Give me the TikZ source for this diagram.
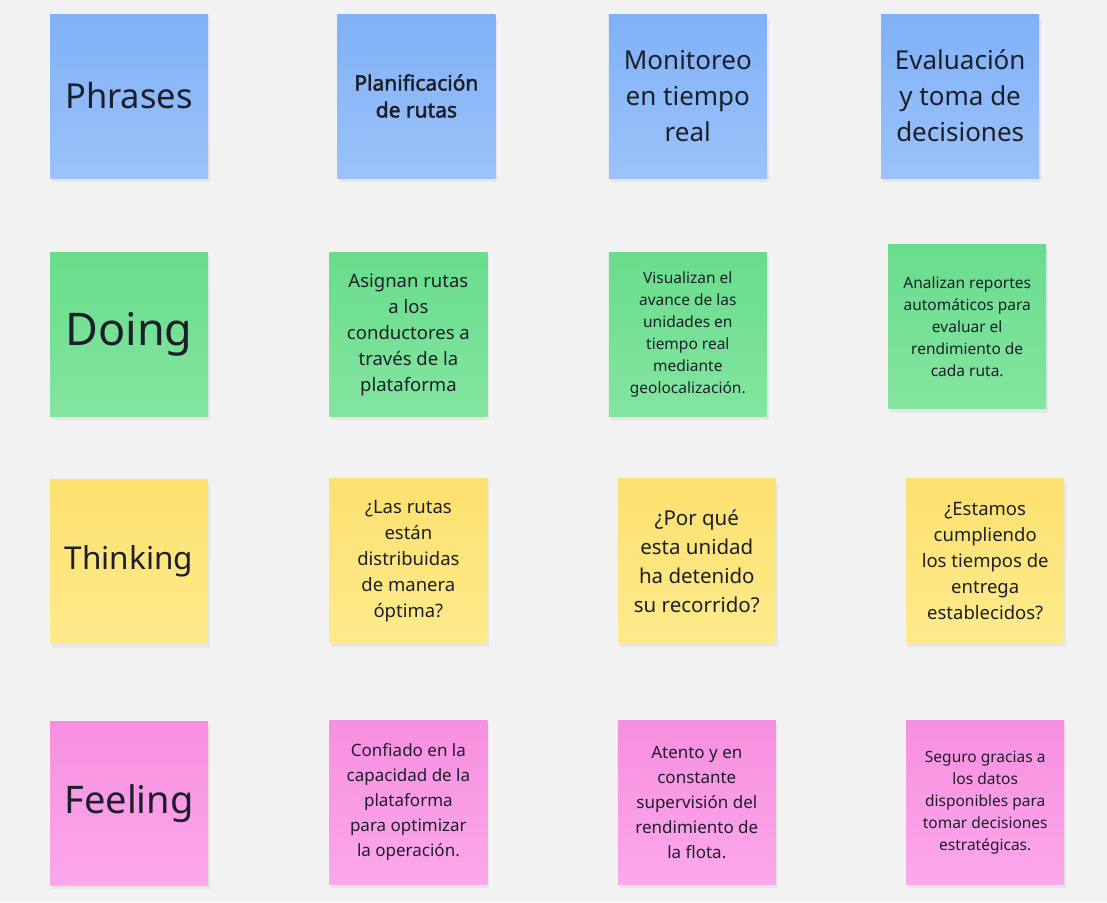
\documentclass[tikz,border=0pt]{standalone}
\usepackage{fontspec}
\setmainfont{Noto Sans}
\newfontfamily\notobold{Noto Sans}[FakeBold=2.2]
\usepackage{xcolor}
\usetikzlibrary{positioning, shadows}

\definecolor{canvas}{HTML}{F2F2F2}
\definecolor{ink}{HTML}{1C1F2A}
\definecolor{blueTop}{HTML}{7FB1F7}
\definecolor{blueBot}{HTML}{9CC2FA}
\definecolor{greenTop}{HTML}{69DD8C}
\definecolor{greenBot}{HTML}{84E5A0}
\definecolor{yellowTop}{HTML}{FDE16F}
\definecolor{yellowBot}{HTML}{FEEA8C}
\definecolor{pinkTop}{HTML}{F78FDF}
\definecolor{pinkBot}{HTML}{FCA8EC}

\newcommand{\fs}[2]{\fontsize{#1}{#2}\selectfont}

\begin{document}
\begin{tikzpicture}[
  x=1pt, y=-1pt,
  note/.style={align=center, text=ink, inner sep=4pt,
               minimum width=158pt, minimum height=164pt,
               drop shadow={opacity=0.10, shadow xshift=2pt, shadow yshift=-4pt}},
  bluenote/.style={note, top color=blueTop, bottom color=blueBot},
  greennote/.style={note, top color=greenTop, bottom color=greenBot},
  yellownote/.style={note, top color=yellowTop, bottom color=yellowBot},
  pinknote/.style={note, top color=pinkTop, bottom color=pinkBot}
]
\fill[canvas] (0,0) rectangle (1107,902);
\useasboundingbox (0,0) rectangle (1107,902);

% row heads
\node[bluenote, font=\fs{34.5}{40}] (phr) at (129,96) {Phrases};
\node[greennote, font=\fs{45}{52}, below=74pt of phr] (doi) {Doing};
\node[yellownote, font=\fs{31.5}{38}, below=63pt of doi] (thi) {Thinking};
\node[pinknote, font=\fs{38}{44}, below=77pt of thi] (fee) {Feeling};

% phrases
\node[bluenote, font=\notobold\fs{21}{27}, right=129pt of phr] (pl1)
     {Planificación\\de rutas};
\node[bluenote, font=\fs{26}{36}, right=114pt of pl1, xshift=-1pt] (pl2)
     {Monitoreo\\en tiempo\\real};
\node[bluenote, font=\fs{26}{36}, right=114pt of pl2] (pl3)
     {Evaluación\\y toma de\\decisiones};

% doing
\node[greennote, font=\fs{18.5}{26}, right=121pt of doi] (do1)
     {Asignan rutas\\a los\\conductores a\\través de la\\plataforma};
\node[greennote, font=\fs{15.5}{22}, right=121pt of do1] (do2)
     {Visualizan el\\avance de las\\unidades en\\tiempo real\\mediante\\geolocalización.};
\node[greennote, font=\fs{15.5}{22}, right=121pt of do2, yshift=7.5pt] (do3)
     {Analizan reportes\\automáticos para\\evaluar el\\rendimiento de\\cada ruta.};

% thinking
\node[yellownote, font=\fs{18.5}{26}, right=121pt of thi, yshift=1pt] (th1)
     {¿Las rutas\\están\\distribuidas\\de manera\\óptima?};
\node[yellownote, font=\fs{20.5}{29}, right=130pt of th1] (th2)
     {¿Por qué\\esta unidad\\ha detenido\\su recorrido?};
\node[yellownote, font=\fs{18.5}{26}, right=130pt of th2] (th3)
     {¿Estamos\\cumpliendo\\los tiempos de\\entrega\\establecidos?};

% feeling
\node[pinknote, font=\fs{17}{25}, right=121pt of fee, yshift=1pt] (fe1)
     {Confiado en la\\capacidad de la\\plataforma\\para optimizar\\la operación.};
\node[pinknote, font=\fs{17}{25}, right=130pt of fe1] (fe2)
     {Atento y en\\constante\\supervisión del\\rendimiento de\\la flota.};
\node[pinknote, font=\fs{15.5}{22}, right=130pt of fe2] (fe3)
     {Seguro gracias a\\los datos\\disponibles para\\tomar decisiones\\estratégicas.};
\end{tikzpicture}
\end{document}
